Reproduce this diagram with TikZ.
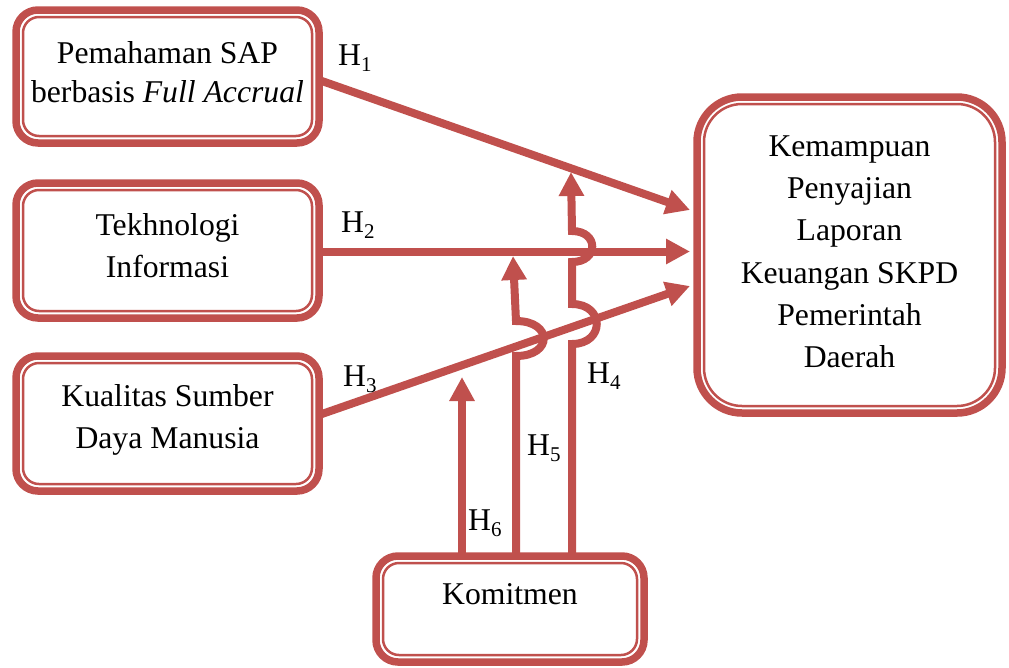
\documentclass[tikz,border=0pt]{standalone}
\usepackage{fontspec}
\setmainfont{Liberation Serif}
\usetikzlibrary{arrows.meta,calc}
\definecolor{accent}{HTML}{C0504D}
\newcommand\hlab[1]{H\raisebox{-0.22em}{\fontsize{21}{21}\selectfont #1}}
\begin{document}
\begin{tikzpicture}[x=1pt,y=-1pt,
  box/.style={draw=accent, line width=7.5pt, rounded corners=#1, outer sep=0pt, inner sep=0pt, fill=white},
  innerline/.style={draw=accent, line width=2.5pt, rounded corners=#1},
  conn/.style={draw=accent, line width=8pt},
  arr/.style={-{Triangle[length=24pt,width=24pt]}},
  txt/.style={font=\fontsize{31.7}{42.3}\selectfont, align=center, inner sep=0pt},
  hl/.style={font=\fontsize{31.7}{38}\selectfont, anchor=base west, inner sep=0pt}]
\useasboundingbox (0,0) rectangle (1009,667);

% boxes
\node[box=22pt, minimum width=303pt, minimum height=133pt] (b1) at (167.5,76.5) {};
\node[box=22pt, minimum width=303pt, minimum height=135pt] (b2) at (167.5,250.5) {};
\node[box=22pt, minimum width=303pt, minimum height=135pt] (b3) at (167.5,423.5) {};
\node[box=22pt, minimum width=268pt, minimum height=106pt] (K) at (510,609) {};
\node[box=45pt, minimum width=305pt, minimum height=316pt] (R) at (849.5,255) {};

\draw[innerline=16pt] ($(b1.north west)+(7,7)$) rectangle ($(b1.south east)+(-7,-7)$);
\draw[innerline=16pt] ($(b2.north west)+(7,7)$) rectangle ($(b2.south east)+(-7,-7)$);
\draw[innerline=16pt] ($(b3.north west)+(7,7)$) rectangle ($(b3.south east)+(-7,-7)$);
\draw[innerline=16pt] ($(K.north west)+(7,7)$) rectangle ($(K.south east)+(-7,-7)$);
\draw[innerline=38pt] ($(R.north west)+(7,7)$) rectangle ($(R.south east)+(-7,-7)$);

% texts
\node[txt, font=\fontsize{31.7}{39}\selectfont] (t1) at (167.5,72) {Pemahaman SAP\\berbasis \textit{Full Accrual}};
\node[txt] (t2) at (167.5,245.7) {Tekhnologi\\Informasi};
\node[txt] (t3) at (167.5,420.1) {Kualitas Sumber\\Daya Manusia};
\node[txt] (tK) at (510,594.2) {Komitmen};
\node[txt] (tR) at (849.5,251.7) {Kemampuan\\Penyajian\\Laporan\\Keuangan SKPD\\Pemerintah\\Daerah};

% coordinates
\coordinate (e1) at ($(R.west)+(-7,-45)$);
\coordinate (e2) at ($(R.west)+(-7,-3.5)$);
\coordinate (e3) at ($(R.west)+(-7,31)$);
\coordinate (t4) at (571,172);
\coordinate (t5) at (513,256);
\coordinate (t6) at (462,377);

% connectors
\draw[conn,arr] ($(b1.east)+(0,3.5)$) -- (e1);
\draw[conn,arr] ($(b2.east)+(0,1)$) -- (e2);
\draw[conn,arr] ($(b3.east)+(0,-8.5)$) -- (e3);
\draw[conn,arr] ($(K.north)+(-48,0)$) -- (t6);
\draw[conn,arr] ($(K.north)+(6,0)$) -- (516,356) .. controls (553,356) and (553,321) .. (516,321) -- (t5);
\draw[conn,arr] ($(K.north)+(62,0)$) -- (572,344) .. controls (605,344) and (605,304) .. (572,304) -- (572,262) .. controls (599,262) and (599,231) .. (572,231) -- (t4);

% labels
\node[hl] (h1) at (338,65) {\hlab{1}};
\node[hl] (h2) at (341,232) {\hlab{2}};
\node[hl] (h3) at (343,386) {\hlab{3}};
\node[hl] (h4) at (587,383) {\hlab{4}};
\node[hl] (h5) at (527,455) {\hlab{5}};
\node[hl] (h6) at (468,530) {\hlab{6}};
\end{tikzpicture}
\end{document}
